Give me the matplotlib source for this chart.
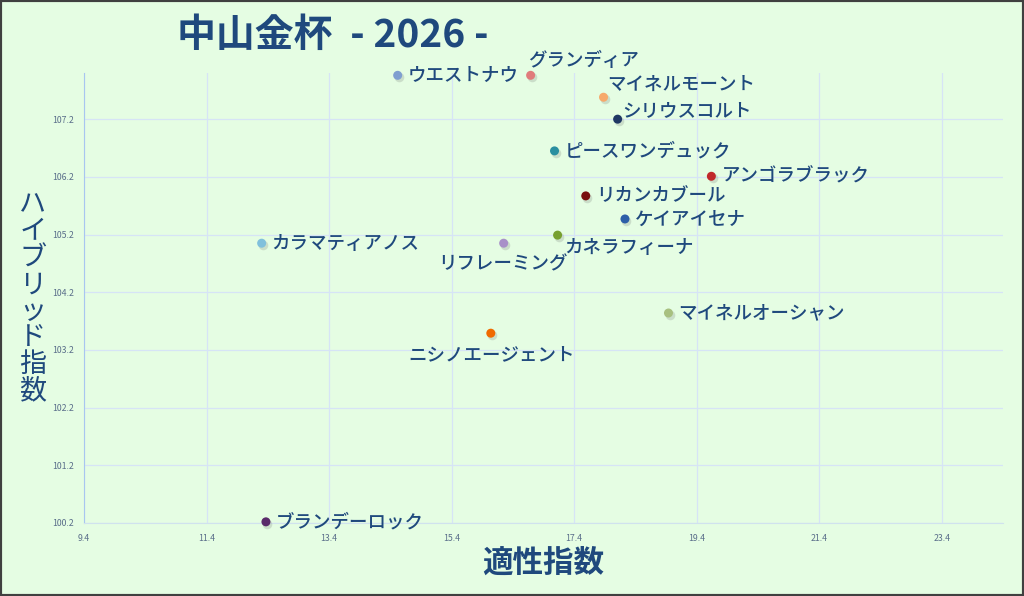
import matplotlib
matplotlib.use('Agg')
import matplotlib.pyplot as plt
from matplotlib.patches import Rectangle

plt.rcParams['font.family'] = ['Noto Sans CJK JP', 'DejaVu Sans']

# horses: 適性指数 (x) and ハイブリッド指数 (y)
names = ['ウエストナウ', 'グランディア', 'マイネルモーント', 'シリウスコルト',
         'ピースワンデュック', 'アンゴラブラック', 'リカンカブール', 'ケイアイセナ',
         'カネラフィーナ', 'リフレーミング', 'カラマティアノス', 'マイネルオーシャン',
         'ニシノエージェント', 'ブランデーロック']
aptitude = [14.52, 16.69, 17.88, 18.11, 17.08, 19.64, 17.59, 18.23,
            17.13, 16.25, 12.30, 18.94, 16.04, 12.37]
hybrid = [107.96, 107.96, 107.58, 107.20, 106.65, 106.21, 105.87, 105.47,
          105.19, 105.05, 105.05, 103.84, 103.49, 100.22]
colors = ['#7f9fd0', '#e07b7b', '#f6a96b', '#1f3864', '#2a8fa0', '#c0282a',
          '#7a1010', '#2d5fa8', '#77a030', '#a890c8', '#80c0dc', '#a8c080',
          '#f06a00', '#5a2a6a']

xticks = [9.4, 11.4, 13.4, 15.4, 17.4, 19.4, 21.4, 23.4]
yticks = [100.2, 101.2, 102.2, 103.2, 104.2, 105.2, 106.2, 107.2]

# label placement (pixel offsets from the point, alignment)
label_pos = {
    'グランディア': (-3, 15, 'left'),
    'マイネルモーント': (4, 13, 'left'),
    'シリウスコルト': (5, 9, 'left'),
    'カネラフィーナ': (7, -12, 'left'),
    'リフレーミング': (-1, -21, 'center'),
    'ニシノエージェント': (1, -22, 'center'),
}

bg = '#e5fde3'
navy = '#1f497d'

fig = plt.figure(figsize=(10.24, 5.96), dpi=100, facecolor=bg)
ax = fig.add_axes([0.082, 0.1225, 0.8975, 0.755])
ax.set_facecolor(bg)

# soft shadow under each marker, then the marker
ax.scatter([v + 0.02 for v in aptitude], [v - 0.03 for v in hybrid], s=48,
           color='#9aa59a', alpha=0.35, linewidths=0, zorder=3, clip_on=False)
ax.scatter(aptitude, hybrid, s=42, c=colors, linewidths=0, zorder=4,
           clip_on=False)

for n, xv, yv in zip(names, aptitude, hybrid):
    dx, dy, ha = label_pos.get(n, (10, 0, 'left'))
    ax.annotate(n, (xv, yv), xytext=(dx, dy), textcoords='offset pixels',
                ha=ha, va='center', fontsize=13.3, color=navy,
                fontweight='medium', zorder=5)

ax.set_xlim(9.4, 24.4)
ax.set_ylim(100.2, 108.0)
ax.set_xticks(xticks)
ax.set_yticks(yticks)
ax.set_xticklabels([f'{t:.1f}' for t in xticks])
ax.set_yticklabels([f'{t:.1f}' for t in yticks])
ax.tick_params(length=0, labelsize=6.3, labelcolor='#5a6e8a')
ax.tick_params(axis='x', pad=8)
ax.tick_params(axis='y', pad=7)
ax.grid(True, color='#d6e4f6', linewidth=0.9)
ax.set_axisbelow(True)
for s in ['top', 'right']:
    ax.spines[s].set_visible(False)
ax.spines['left'].set_color('#a8c6f0')
ax.spines['bottom'].set_color('#d0e2ee')

fig.text(0.173, 0.94, '中山金杯  - 2026 -', ha='left', va='center',
         fontsize=28, fontweight='bold', color=navy)
fig.text(0.530, 0.055, '適性指数', ha='center', va='center',
         fontsize=22, fontweight='bold', color=navy)
fig.text(0.032, 0.50, '\n'.join('ハイブリッド指数'), ha='center', va='center',
         fontsize=19.5, color=navy, linespacing=0.98)

fig.patches.append(Rectangle((0, 0), 1, 1, transform=fig.transFigure,
                             fill=False, edgecolor='#404040', linewidth=3))

plt.savefig('out.png', dpi=100, facecolor=bg)
